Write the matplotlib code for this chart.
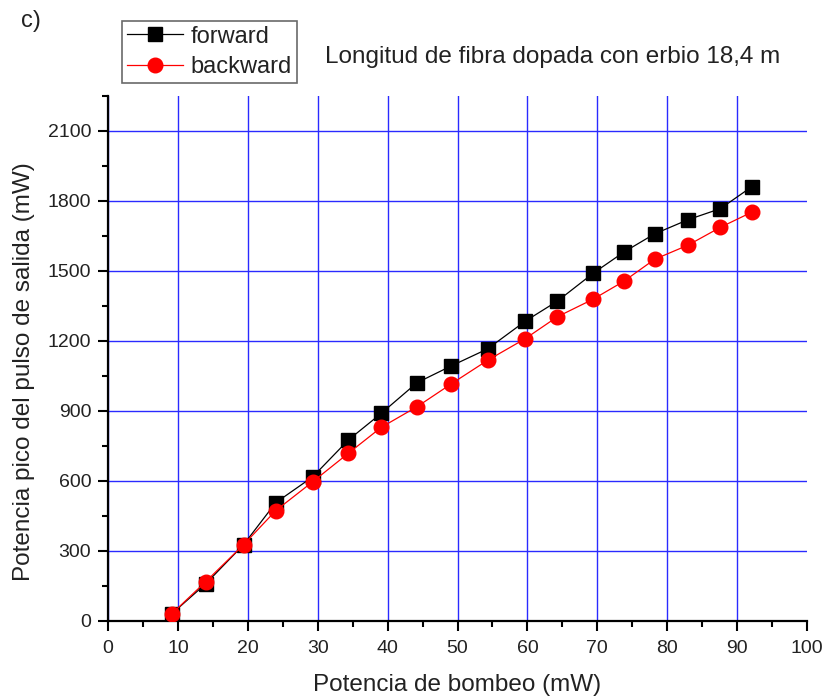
import numpy as np
import matplotlib.pyplot as plt
from matplotlib.ticker import MultipleLocator

plt.rcParams['font.family'] = ['Liberation Sans', 'DejaVu Sans']

# pump power (mW) and peak output pulse power (mW)
bombeo = [9.1, 14.0, 19.4, 24.0, 29.3, 34.4, 39.1, 44.2, 49.1, 54.3,
          59.7, 64.3, 69.4, 73.8, 78.2, 83.0, 87.6, 92.1]
forward = [30, 160, 327, 507, 618, 776, 890, 1021, 1093, 1166,
           1285, 1371, 1490, 1581, 1659, 1720, 1767, 1861]
backward = [30, 169, 327, 473, 597, 719, 830, 918, 1016, 1117,
            1210, 1304, 1379, 1456, 1550, 1611, 1687, 1752]

xticks = np.arange(0, 101, 10)
yticks = np.arange(0, 2101, 300)

fig = plt.figure(figsize=(8.25, 7), dpi=100)
ax = fig.add_axes([0.1309, 0.1129, 0.8473, 0.7500])

ax.plot(bombeo, forward, '-s', color='black', lw=0.9, ms=9.5, label='forward', zorder=3)
ax.plot(bombeo, backward, '-o', color='red', lw=0.9, ms=10.5, label='backward', zorder=4)

ax.set_xlim(0, 100)
ax.set_ylim(0, 2250)
ax.set_xticks(xticks)
ax.set_yticks(yticks)
ax.xaxis.set_minor_locator(MultipleLocator(5))
ax.yaxis.set_minor_locator(MultipleLocator(150))

ax.grid(True, which='major', color='#2a2aff', lw=1.0)
ax.set_axisbelow(True)
ax.xaxis.get_gridlines()[-1].set_visible(False)

for s in ['top', 'right']:
    ax.spines[s].set_visible(False)
for s in ['left', 'bottom']:
    ax.spines[s].set_linewidth(1.6)

ax.tick_params(which='major', direction='out', length=7, width=1.5,
               labelsize=14, labelcolor='#222222', pad=5)
ax.tick_params(axis='x', which='major', pad=7)
ax.tick_params(which='minor', direction='out', length=4.5, width=1.5)

ax.set_xlabel('Potencia de bombeo (mW)', fontsize=17.5, color='#222222')
ax.set_ylabel('Potencia pico del pulso de salida (mW)', fontsize=17.5, color='#222222')
ax.xaxis.set_label_coords(0.5, -0.101)
ax.yaxis.set_label_coords(-0.104, 0.474)

fig.text(0.670, 0.918, 'Longitud de fibra dopada con erbio 18,4 m', fontsize=17.5,
         color='#222222', ha='center', va='center')
fig.text(0.025, 0.97, 'c)', fontsize=17, color='#222222', ha='left', va='center')

leg = fig.legend(loc='upper left', bbox_to_anchor=(0.148, 0.970), fontsize=17,
                 frameon=True, fancybox=False, edgecolor='#444444',
                 handlelength=2.4, handletextpad=0.3, borderpad=0.2,
                 labelspacing=0.35, borderaxespad=0)
leg.get_frame().set_linewidth(1.2)
for t in leg.get_texts():
    t.set_color('#222222')

fig.savefig('out.png', dpi=100)
